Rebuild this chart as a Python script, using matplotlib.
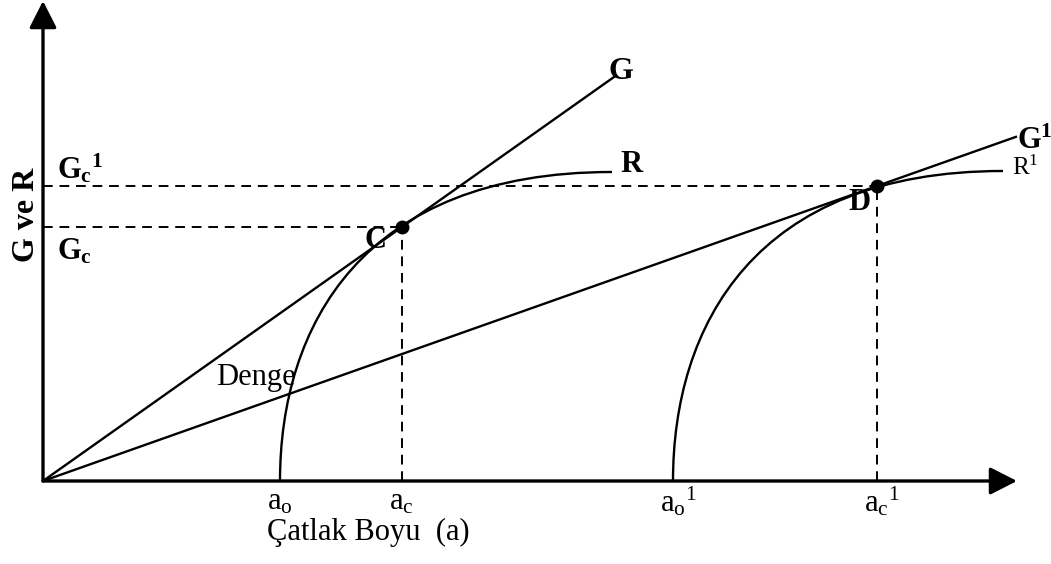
import matplotlib
matplotlib.use("Agg")
import matplotlib.pyplot as plt
from matplotlib.path import Path
from matplotlib.patches import PathPatch

plt.rcParams['font.family'] = ['Liberation Serif', 'DejaVu Serif']
plt.rcParams['mathtext.fontset'] = 'custom'
plt.rcParams['mathtext.rm'] = 'Liberation Serif'
plt.rcParams['mathtext.it'] = 'Liberation Serif:italic'
plt.rcParams['mathtext.bf'] = 'Liberation Serif:bold'

# ---- schematic values (arbitrary units; origin = (0, 0)) ----
a_o = 2.37          # initial crack length, first curve
a_c = 3.59          # critical crack length, first curve
a_o1 = 6.30         # initial crack length, second curve
a_c1 = 8.34         # critical crack length, second curve
G_c = 2.54          # critical G, first curve
G_c1 = 2.95         # critical G, second curve
R_end = [5.69, 9.60]     # crack length where R curves end
R_max = [3.09, 3.10]     # plateau of R curves
R_start = [a_o, a_o1]
G_end = [5.74, 9.74]     # crack length where G lines end
x_axis_max = 9.74
y_axis_max = 4.80

tick_labels = [r'$\mathrm{a_o}$', r'$\mathrm{a_c}$', r'$\mathrm{a_o{}^1}$', r'$\mathrm{a_c{}^1}$']
tick_pos = [a_o, a_c, a_o1, a_c1]

fig = plt.figure(figsize=(10.51, 5.64), dpi=100)
ax = fig.add_axes([0, 0, 1, 1])
ax.set_xlim(-0.43, 10.08)
ax.set_ylim(-0.83, 4.81)
ax.axis('off')

lw = 1.7
# axes with arrows
arrow = dict(arrowstyle='-|>,head_length=0.55,head_width=0.28', mutation_scale=30,
             lw=2.4, color='black', shrinkA=0, shrinkB=0)
ax.annotate('', xy=(x_axis_max, 0), xytext=(0, 0), arrowprops=arrow)
ax.annotate('', xy=(0, y_axis_max), xytext=(0, 0), arrowprops=arrow)

# G lines through origin and critical points
for (ac, gc, xe) in [(a_c, G_c, G_end[0]), (a_c1, G_c1, G_end[1])]:
    slope = gc / ac
    ax.plot([0, xe], [0, slope * xe], color='black', lw=lw, solid_capstyle='butt')

# R curves (vertical start, flat plateau)
for xs, xe, rm in zip(R_start, R_end, R_max):
    w = xe - xs
    verts = [(xs, 0), (xs, 0.5 * rm), (xs + 0.247 * w, rm), (xe, rm)]
    codes = [Path.MOVETO, Path.CURVE4, Path.CURVE4, Path.CURVE4]
    ax.add_patch(PathPatch(Path(verts, codes), fill=False, lw=lw, edgecolor='black'))

# dashed guides
dash = dict(color='black', lw=1.4, dashes=(5, 3.5))
ax.plot([0, a_c], [G_c, G_c], **dash)
ax.plot([a_c, a_c], [0, G_c], **dash)
ax.plot([0, a_c1], [G_c1, G_c1], **dash)
ax.plot([a_c1, a_c1], [0, G_c1], **dash)

# critical points
ax.plot([a_c, a_c1], [G_c, G_c1], 'o', color='black', ms=9, zorder=5)

fs = 22
# tick labels
for p, t in zip(tick_pos, tick_labels):
    ax.text(p - 0.13, -0.21, t, fontsize=fs, ha='left', va='center')
ax.text(2.24, -0.51, 'Çatlak Boyu  (a)', fontsize=fs, ha='left', va='center')
ax.text(-0.16, 2.66, 'G ve R', fontsize=23, fontweight='bold', rotation=90,
        ha='center', va='center')
ax.text(0.14, 2.29, r'$\mathbf{G_c}$', fontsize=fs, ha='left', va='center')
ax.text(0.14, 3.12, r'$\mathbf{G_c{}^1}$', fontsize=fs, ha='left', va='center')
ax.text(2.13, 1.03, 'Denge', fontsize=fs, ha='center', va='center')
ax.text(3.32, 2.41, 'C', fontsize=fs, fontweight='bold', ha='center', va='center')
ax.text(8.16, 2.78, 'D', fontsize=fs, fontweight='bold', ha='center', va='center')
ax.text(5.78, 4.10, 'G', fontsize=23, fontweight='bold', ha='center', va='center')
ax.text(5.77, 3.17, 'R', fontsize=fs, fontweight='bold', ha='left', va='center')
ax.text(9.69, 3.13, r'$\mathrm{R^1}$', fontsize=18, ha='left', va='center')
ax.text(9.74, 3.40, r'$\mathbf{G^1}$', fontsize=fs, ha='left', va='center')

fig.savefig('out.png', dpi=100)
